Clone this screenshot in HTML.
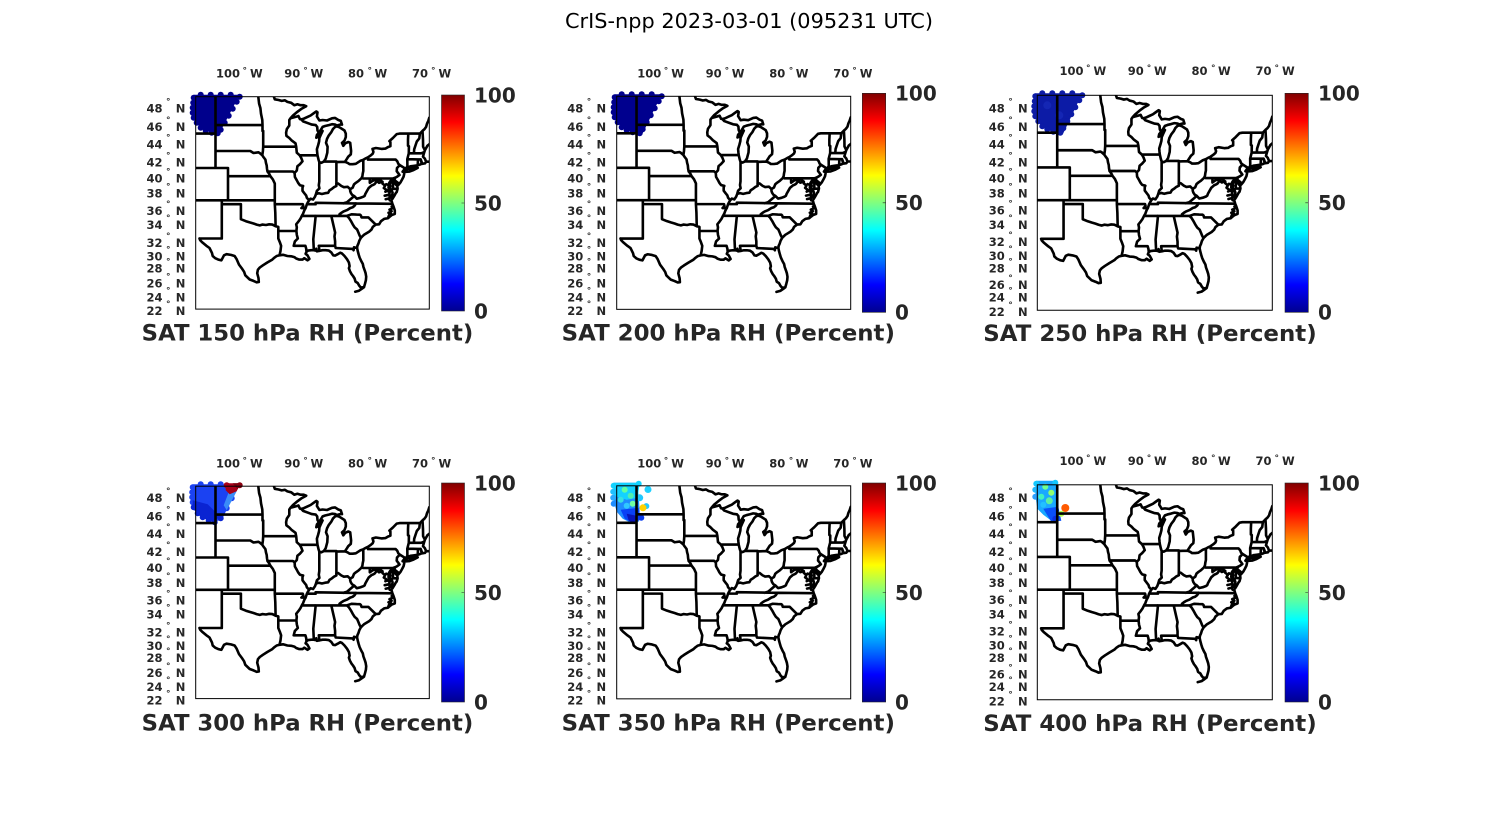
<!DOCTYPE html>
<html><head><meta charset="utf-8"><style>
html,body{margin:0;padding:0;background:#fff;}
svg{display:block;}
.l{font-family:"DejaVu Sans","Liberation Sans",sans-serif;font-weight:bold;font-size:11.5px;fill:#262626;}
.d{font-size:9px;}
.c{font-family:"DejaVu Sans","Liberation Sans",sans-serif;font-weight:bold;font-size:20px;fill:#262626;}
.h{font-family:"DejaVu Sans","Liberation Sans",sans-serif;font-weight:bold;font-size:22px;fill:#262626;}
.mt{font-family:"DejaVu Sans","Liberation Sans",sans-serif;font-size:20.5px;fill:#000;}
</style></head><body>
<svg width="1500" height="825" viewBox="0 0 1500 825" xmlns="http://www.w3.org/2000/svg">
<defs>
<linearGradient id="jet" x1="0" y1="0" x2="0" y2="1">
<stop offset="0" stop-color="#800000"/>
<stop offset="0.125" stop-color="#ff0000"/>
<stop offset="0.375" stop-color="#ffff00"/>
<stop offset="0.625" stop-color="#00ffff"/>
<stop offset="0.875" stop-color="#0000ff"/>
<stop offset="1" stop-color="#00008f"/>
</linearGradient>
<clipPath id="cp"><rect x="0" y="0" width="233.6" height="212.4"/></clipPath>
<g id="m">
<g clip-path="url(#cp)" fill="none" stroke="#000" stroke-width="2.6" stroke-linejoin="round" stroke-linecap="round">
<path d="M19.8,0L19.8,71.3M0,36.9L19.8,36.9M19.8,28.4L66.8,28.4M19.8,54.3L54.6,54.3L57.8,56.3L62.8,55.6L64.1,56.4L66.6,58.6M0,71.3L32.3,71.3L32.3,103.6M32.3,79.5L74.7,79.5M0,103.6L79.1,103.6M26.1,103.6L26.1,141.8L3.8,141.8M26.1,107.5L45.2,107.5L45.2,122.5L50.2,124.5L54,125.7L57.8,126.8L60.9,127.9L64.1,128.7L66.6,127.9L70.3,128.3L73.5,127.6L76.6,127.9L79.9,129.5L82.6,130.2L82.6,141.8L84.1,145.4L85.4,149.1L84.8,154.2L83.8,158.6M79.1,103.6L79.1,107.5L79.6,116.1L79.9,129.5M79.1,107.5L107.1,107.5L107.6,109.4L105.7,111.4L109.9,111.4M3.8,141.8L4.4,143.4L6.3,145.4L10.7,149.1L13.8,151.3L16.3,156.4L17,159.3L19.5,161.5L22.6,162.9L25.7,163.6L28.3,158.6L30.8,157.5L35.2,158.2L38.9,159.3L40.8,162.2L43.3,167.9L46.5,172.2L48.4,175.1L49.6,178.6L54,182.8L57.8,184.2L60.9,185.6L63.1,185.3L62.8,181.4L61.5,176.5L62.2,173L64.1,170.8L67.2,168.6L71.6,165.8L76.6,162.9L78.5,161.1L81,159.3L83.8,158.6L87.3,158.1L91.7,159.3L95.5,159.6L98.6,160.4L100.5,161.8L103.6,162.9L106.8,162.9L108.6,161.5L111.8,163.6L113.7,162.2L111.8,158.6L109.9,157.1L110.8,155L112.4,153.9L115.6,153.5L118.1,153.5L119.9,153.9L120.6,152L121.2,154.6L123.7,154.2L126.9,153.5L130,153.5L133.1,153.9L135.6,155.7L137.5,158.6L139.4,158.9L142,157.5L144.5,156L146.3,156.8L148.8,159.3L151.3,162.5L153.2,165.8L153.9,169.4L153.2,171.5L154.2,174.4L155.7,177.2L157.3,179.3L158.9,181.8L159.8,184.9L162,186.3L163.6,189.1L165.2,190.9L168.3,190.5L169.3,187L170.2,183.5L170.5,180L169.9,176.5L169,173.7L167.7,170.1L167.1,167.2L165.5,164.3L163.9,160.8L163,157.9L162,154.2L161.4,151.3L161.7,149.1L162.7,146.9L163.6,144L165.2,141.1L166.4,139.9L168.3,138.1L170.8,136.6L173.3,135.1L175.8,132.8L177.1,130.2L180,127.9L183.4,127.6L185.3,124.5L188.4,122.2L192.2,121.5L194.1,119.9L196,118.4L199.1,117.2L199.1,113.7L197.8,109.8L196.7,107.1M168.3,190.5L166.4,191.9L163.3,194L159.5,195M82.6,134.3L100.7,134.3M100.7,134.3L101.1,138.1L102.1,141.8L99.2,144.7L98,149.1L109.7,149.1L110.5,152L110.8,155M100.7,134.3L101.1,130.6L100.5,127.6L103,124.5L104.6,122.2L106.1,119.2L107.4,116.9L108.6,113.7L109.9,111.4L111.2,107.5L112.4,105.2L113.4,103.6L111.2,101.2L110.5,98.9L108.6,96.5L106.8,94.1L106.8,90.9L107.4,89.3L104.2,88.5L102.4,86.1L101.1,83.6L99.2,80.3L98.9,76.2L101.1,73.8L101.7,69.6L104.2,67.5L106.8,64.6L105.5,61.2L104,58.6L101.1,56L100.5,50L99.8,46.6L96.1,43.9L93.6,41.3L90.7,39.1L90.4,36L91.1,32.4L93.6,28.8L93.6,23.3L94.8,21.6M67.5,50L100.5,50M66.8,28.4L66.8,34.2L67.5,34.2L67.5,50L67.2,54.3L66.6,58.6L67.8,60.4L69.7,62.9L70.3,66.3L71,68.8L71.3,72.1L71.8,74.8L73.5,77.1L74.7,79.5L77.2,82.8L79.1,86.9L79.1,103.6M66.8,28.4L66.6,23.3L65.3,17L64.7,11.4L63.4,6.9L62.6,0M71.8,74.8L97.2,74.8L98.9,76.2M78.2,0L79.1,2.6L82.9,3.3L86,4.2L89.2,3.6L91.7,5.2L95.5,6.1L98.6,8.5L101.7,7.6L104.9,8.5L108,8.5L110.5,9.5L106.1,11.9L101.7,15.1L97.3,18.8L94.8,21.6L101.7,19.7L102.7,19.3L104.2,22.4L105.5,22.7L107.4,24.7L113.7,27L116.2,27.9L120,28.4L121.5,30.2L121.8,33.8L123.1,36M123.1,36L121.2,38.3L120.6,41L122.5,40.1L124.3,37.8L126.9,34.2L125,38.3L123.7,41.3L123.4,44.8L122.5,48.3L121.2,52.6L121.5,56L121.8,58.6L122.8,62.9L123.6,65.4L125.6,66.1L128.1,64.9M104,58.6L121.8,58.6M123.6,65.4L123.6,84.8L123.1,88.5L123.7,91.7L121.2,94.1L120.3,97.3L119.3,100L117.4,102.8L114.9,102L113.4,103.6M120.3,97.3L123.1,96.5L126.2,97.3L129.4,96.5L132.5,96.1L133.8,93.7L136.3,92.1L138.2,90.5L140.7,89.3L140.6,86.9L142.6,86.9L145.7,89.3L148.2,90.5L152,90.1L154.5,92.5L157,90.9L158.3,87.7L160.2,86.1L162.7,84.4L165.8,81.5L166.7,79.5L167,77.1L167.6,74.3L167.6,63.1L164.5,64.2L160.1,67.1L157,67.5L153.9,67.5L152,66.2L149.2,65.1L140.7,65.4M128.1,64.9L140.7,64.9L140.7,86.9M128.1,64.9L130,62L131.6,56L131.9,50L130.3,46.1L131.3,42.2L133.1,38.7L135.6,35.5L137.2,32.4L139.4,30.2L141.3,29.7L143.8,30.6L148.8,33.8L150.1,36.9L150.1,40.4L148.8,43.9L146.3,46.1L147.6,49.1L149.5,46.6L152.6,45.3L154.5,46.1L155.4,54.3L155.1,57.7L152.6,59.9L151.3,62L149.2,65.1M123.1,36L125,33.3L126.9,30.2L129.4,29.3L133.1,28.4L136.3,27.5L139.4,27.9L141.3,28.8L144.4,27.9L146.3,27.9L145.1,24.2L142.6,23.3L139.4,21.2L136.3,21.6L131.3,23.8L126.9,23.3L123.7,23.8L121.2,19.7L121.8,15.6L120.6,14.7L117.4,17L114.9,18.8L111.8,20.2L108,22L105.5,22.7M111.2,107.5L119.9,107.5L119.9,106.1L160.4,106.7L196.7,107.1M147.7,106.7L151.3,105.5L152.6,104.4L154.5,102.8L156.4,101.2L158.5,99.4L156.4,98.1L155.1,96.1L154.5,94.3L154.5,92.5M160.4,106.7L158.8,109.1L156.9,110.6L154.5,111.4L151.3,113.4L147.6,114.9L145.7,116.1L143.8,117.6L143.7,119.2M106.1,119.2L151.3,119.2M119.3,119.2L119.9,119.9L117.6,142.5L118.1,153.5M135.6,119.2L139.4,135.8L138.8,139.6L139.4,144.7L139.4,149.1L123.1,149.1L123.4,151.3L123.7,154.2M139.4,149.1L140,151.3L157,152.2L157.9,153.5L158.3,150.6L161.4,151.3M151.3,119.2L153.2,121.1L155.1,124.1L157,127.6L158.9,130.6L161.4,132.8L162.7,135.8L163.9,138.8L165.2,141.1M151.3,119.2L155.8,117.6L160.8,117.9L164.3,118L165.2,118.8L165.8,120.7L172.7,120.7L180,127.9M192.2,121.5L193.4,118.4L195.3,117L192.8,116.1L195.9,114.5L193.8,113L197.2,111.4L196,109.8M158.5,99.4L161.1,102L164.5,101.2L167.7,100L168.9,99.2L169.6,97.3L171.4,94.1L173,91.3L175.8,88.9L177.7,88.1L179,87.3L181.2,84.4L183.4,86.1L186.8,85.1L183.4,82.8L181.5,82.6L177.1,84L174.1,86.1L174.1,81.8L167.6,81.8M174.1,81.8L197.3,81.8L197.3,92.1L201.9,92.1M197.3,81.8L199.7,80.9L201.6,79.9L203.8,78.3L202.6,76.6L201,74.5L201.3,71.3L204.1,68.4M199.7,80.9L198.5,82.8L198.8,85.2L200,87.7L201.6,89.3L201.9,92.1M198.5,82.8L200,84.4L202.2,86.1L202.6,88.3L204.8,85.7L206.4,82.8L207.9,79.9L208.5,77.1L208.5,75.8L206.9,75L208.2,73.3L209,71.5L204.1,68.4M201.9,92.1L201,95.3L200,96.5L198.5,99.3L196.6,102.4L196.3,99.3L196.9,96.1L195.9,93.3L194.1,91.7L194.7,89.3L194.1,87.7L195.3,85.2L195.9,83.2L194.4,84.8L193.4,86.5L193.1,88.5L192.8,90.9L193.4,93.3L194.1,95.3L192.2,94.5L189.7,92.5L188.1,91.3L189.3,89.3L188.4,88.1L186.8,86.9L186.8,85.1M194.1,95.3L193.7,96.5L194.1,99.7L193.4,102L194.1,103.6L195.9,104.2L196.7,107.1M193.4,93.3L189.7,95M193.7,98L189,99M194,101.5L190,102.5M193.1,88.5L190.5,87.5M204.1,68.4L202.6,67.1L201.6,64.6L200,62.9L172.3,62.9L172.3,60.6L170.2,61.6L167.6,63.1M172.3,60.6L175.2,58.6L177.1,56.9L177.7,55.2L176.8,52.2L180.2,51.3L185.8,52.2L189.7,51.9L192.2,50.4L194.7,49.5L194.7,45.3L193.7,44.4L197.2,41.3L201,37.4L203.8,36.9L224.2,36.9M212.6,36.9L212.3,43L212.3,49.1L213.2,49.5L213.1,56.6L211.6,62.5L211.7,69.6L210.6,71.3L214.8,69.6L217.9,69.2L222,68.6L222.3,62.7L211.6,62.5M222,68.6L224.2,67.9L226.1,67.1L225,62.7L222.3,62.7M225,62.7L226.6,67.1L229.2,66.7L230.5,65L233.6,65M213.1,56.6L225.5,56.6L228.6,55.4L227.9,57.7L227.3,59.9L229.2,62L229.9,63.8L230.5,65M218.2,56.6L218.5,52.6L219.8,48.7L221.1,44.8L223.6,41.7L224.2,36.9L226.8,34.2L227.3,43L227.4,50L229.2,53.6L228.6,55.4M226.8,34.2L228.8,32.4L230.4,30.2L231.3,27L232.6,24.2L233.6,21M229.2,53.6L231.7,49.1L233.6,47.5M208.8,75.2L213.5,74.9L217.9,73.3L222,71.1L218.6,71.3L214.8,71.9L210,72.7Z"/>
</g>
<rect x="0" y="0" width="233.6" height="212.4" fill="none" stroke="#000" stroke-width="1"/>
</g>
</defs>

<!-- Main title -->
<text class="mt" x="749" y="28" text-anchor="middle" textLength="368" lengthAdjust="spacingAndGlyphs">CrIS-npp 2023-03-01 (095231 UTC)</text>

<!-- ===== Scatter data ===== -->
<g transform="translate(195.7,96.7)" fill="#00008c">
<polygon points="-2,-2 44,-2 24,36 16,35.5 8,33.5 2,28 -3,21"/>
<circle cx="-2" cy="1" r="3"/><circle cx="-2.5" cy="6" r="3"/><circle cx="-3" cy="11" r="3"/><circle cx="-3" cy="16" r="3"/><circle cx="-2" cy="21" r="3"/><circle cx="1" cy="26" r="3"/><circle cx="5" cy="31" r="3"/><circle cx="10" cy="34" r="3"/><circle cx="16" cy="36" r="3"/><circle cx="22" cy="36.5" r="3"/><circle cx="25" cy="33" r="3"/><circle cx="29" cy="26" r="3"/><circle cx="33" cy="19" r="3"/><circle cx="37" cy="12" r="3"/><circle cx="41" cy="5" r="3"/><circle cx="44" cy="0" r="3"/><circle cx="5" cy="-2" r="3"/><circle cx="15" cy="-2" r="3"/><circle cx="25" cy="-2" r="3"/><circle cx="35" cy="-2" r="3"/>
</g>
<g transform="translate(616.7,96.3)" fill="#00008e">
<polygon points="-2,-2 45,-2 26,37 17,36 8,34 2,28 -3,21"/>
<circle cx="-2" cy="1" r="3"/><circle cx="-2.5" cy="6" r="3"/><circle cx="-3" cy="11" r="3"/><circle cx="-3" cy="16" r="3"/><circle cx="-2" cy="21" r="3"/><circle cx="1" cy="26" r="3"/><circle cx="5" cy="31" r="3"/><circle cx="10" cy="34" r="3"/><circle cx="16" cy="36" r="3"/><circle cx="23" cy="37" r="3"/><circle cx="26" cy="33" r="3"/><circle cx="30" cy="26" r="3"/><circle cx="34" cy="19" r="3"/><circle cx="38" cy="12" r="3"/><circle cx="42" cy="5" r="3"/><circle cx="45" cy="0" r="3"/><circle cx="5" cy="-2" r="3"/><circle cx="15" cy="-2" r="3"/><circle cx="25" cy="-2" r="3"/><circle cx="35" cy="-2" r="3"/>
</g>
<g transform="translate(1037.3,95.3)" fill="#0c1ba6">
<polygon points="-2,-2 45,-2 26,38 17,37 8,34 2,28 -3,21"/>
<circle cx="-2" cy="1" r="3"/><circle cx="-2.5" cy="6" r="3"/><circle cx="-3" cy="11" r="3"/><circle cx="-3" cy="16" r="3"/><circle cx="-2" cy="21" r="3"/><circle cx="1" cy="26" r="3"/><circle cx="5" cy="31" r="3"/><circle cx="10" cy="34" r="3"/><circle cx="16" cy="36.5" r="3"/><circle cx="23" cy="37.5" r="3"/><circle cx="26" cy="33" r="3"/><circle cx="30" cy="26" r="3"/><circle cx="34" cy="19" r="3"/><circle cx="38" cy="12" r="3"/><circle cx="42" cy="5" r="3"/><circle cx="45" cy="0" r="3"/><circle cx="5" cy="-2" r="3"/><circle cx="15" cy="-2" r="3"/><circle cx="25" cy="-2" r="3"/><circle cx="35" cy="-2" r="3"/>
<circle cx="10" cy="10" r="4" fill="#1426b4"/><circle cx="22" cy="20" r="4" fill="#1426b4"/>
</g>
<g transform="translate(195.7,486.2)">
<g fill="#1b42f2">
<polygon points="-3,-2 43,-2 26,34 18,35 10,33 3,29 -3,22"/>
<circle cx="-3" cy="1" r="3"/><circle cx="-3.5" cy="6" r="3"/><circle cx="-3.5" cy="11" r="3"/><circle cx="-3" cy="16" r="3"/><circle cx="5" cy="-2" r="3"/><circle cx="15" cy="-2" r="3"/><circle cx="25" cy="-2" r="3"/><circle cx="36" cy="12" r="3"/><circle cx="31" cy="22" r="3"/>
</g>
<g fill="#0a24d2">
<polygon points="-3,14 12,18 24,30 18,36 10,33 3,29 -3,22"/>
<circle cx="-2" cy="21" r="3"/><circle cx="2" cy="27" r="3"/><circle cx="7" cy="31" r="3"/><circle cx="13" cy="34" r="3"/><circle cx="19" cy="36" r="3"/><circle cx="25" cy="32" r="3"/>
</g>
<polygon points="33,6 41,5 31,24 28,19" fill="#3a8cf8"/>
<polygon points="30,-3 45,-3 41,5 34,8 30,4" fill="#a8001a"/>
<polygon points="37,-3 45,-3 42,3" fill="#7a000c"/>
<circle cx="31" cy="-1" r="3" fill="#a8001a"/><circle cx="44" cy="-1" r="3" fill="#8a0010"/>
</g>
<g transform="translate(616.7,485.8)">
<polygon points="-3,-3 20,-3 22,10 23,25 22,36 14,37 6,33 0,26 -3,15" fill="#1e8cff"/>
<polygon points="-3,-3 23,-3 21,12 10,14 -3,10" fill="#14d2ff"/>
<circle cx="-3" cy="0" r="3" fill="#14d2ff"/><circle cx="-3.5" cy="6" r="3" fill="#20c0ff"/><circle cx="-3.5" cy="12" r="3" fill="#2aa8ff"/><circle cx="-3" cy="18" r="3" fill="#1e8cff"/><circle cx="22" cy="-2" r="3" fill="#14d2ff"/>
<circle cx="8" cy="4" r="3" fill="#60ffa0"/><circle cx="14" cy="10" r="3" fill="#50f0b0"/><circle cx="4" cy="14" r="3" fill="#38e0e0"/><circle cx="16" cy="18" r="3" fill="#70ffa0"/><circle cx="10" cy="20" r="3" fill="#30c8ff"/>
<polygon points="4,24 22,22 24,34 16,37 8,33" fill="#0a40f5"/>
<polygon points="10,28 20,30 18,37 12,35" fill="#0814b8"/>
<circle cx="31.3" cy="3.7" r="3.5" fill="#1ed0ff"/><circle cx="23" cy="12" r="3.5" fill="#20c8ff"/><circle cx="29.6" cy="20.3" r="3" fill="#22c8ff"/><circle cx="26.3" cy="22" r="3.5" fill="#ffd200"/><circle cx="24.6" cy="32" r="3" fill="#0a3cf0"/>
</g>
<g transform="translate(1037.3,484.8)">
<polygon points="-1,-4 19,-4 20,10 21,25 23,36 14,36 6,30 0,24 -2,10" fill="#1aa8ff"/>
<circle cx="-1" cy="-1" r="3" fill="#14c8ff"/><circle cx="-2" cy="5" r="3" fill="#20b8ff"/><circle cx="-2" cy="12" r="3" fill="#2aa0ff"/><circle cx="18" cy="-2" r="3" fill="#14c8ff"/>
<circle cx="8" cy="2" r="3" fill="#70ff90"/><circle cx="14" cy="8" r="3" fill="#90ff70"/><circle cx="4" cy="12" r="3" fill="#40f0c0"/><circle cx="12" cy="16" r="3.5" fill="#5cf0a0"/><circle cx="6" cy="20" r="3" fill="#22c0ff"/>
<polygon points="6,24 21,22 24,36 14,37" fill="#0a50f8"/>
<circle cx="18" cy="34" r="3" fill="#0a30e0"/>
<circle cx="28" cy="23.2" r="4" fill="#ff5a00"/>
<circle cx="24" cy="29" r="3" fill="#b0ff50"/>
</g>

<!-- ===== Maps ===== -->
<use href="#m" transform="translate(195.7,96.7)"/>
<use href="#m" transform="translate(616.7,96.3) scale(1.0017,1.003)"/>
<use href="#m" transform="translate(1037.3,95.3) scale(1.006,1.012)"/>
<use href="#m" transform="translate(195.7,486.2)"/>
<use href="#m" transform="translate(616.7,485.8) scale(1.0017,1.003)"/>
<use href="#m" transform="translate(1037.3,484.8) scale(1.006,1.012)"/>

<!-- ===== Colorbars ===== -->
<g stroke="#262626" stroke-width="0.6">
<rect x="441.5" y="95" width="23" height="216" fill="url(#jet)"/>
<rect x="862.3" y="93.3" width="23.4" height="219" fill="url(#jet)"/>
<rect x="1285" y="93.3" width="23.3" height="219" fill="url(#jet)"/>
<rect x="441.5" y="483" width="23" height="219" fill="url(#jet)"/>
<rect x="862.3" y="483" width="23.4" height="219" fill="url(#jet)"/>
<rect x="1285" y="483" width="23.3" height="219" fill="url(#jet)"/>
<path d="M461.5,203H464.5M882.7,202.8H885.7M1305.3,202.8H1308.3M461.5,592.5H464.5M882.7,592.5H885.7M1305.3,592.5H1308.3" fill="none"/>
</g>
<g class="c">
<text x="474" y="102.3">100</text><text x="474" y="210.3">50</text><text x="474" y="318.3">0</text>
<text x="895" y="100.6">100</text><text x="895" y="210">50</text><text x="895" y="319.5">0</text>
<text x="1318" y="100.6">100</text><text x="1318" y="210">50</text><text x="1318" y="319.5">0</text>
<text x="474" y="490.3">100</text><text x="474" y="599.8">50</text><text x="474" y="709.3">0</text>
<text x="895" y="490.3">100</text><text x="895" y="599.8">50</text><text x="895" y="709.3">0</text>
<text x="1318" y="490.3">100</text><text x="1318" y="599.8">50</text><text x="1318" y="709.3">0</text>
</g>

<!-- ===== Titles ===== -->
<g class="h" text-anchor="middle">
<text x="307.5" y="340.5" textLength="331.6" lengthAdjust="spacingAndGlyphs">SAT 150 hPa RH (Percent)</text>
<text x="728.3" y="340.5" textLength="333.3" lengthAdjust="spacingAndGlyphs">SAT 200 hPa RH (Percent)</text>
<text x="1150" y="341" textLength="333.4" lengthAdjust="spacingAndGlyphs">SAT 250 hPa RH (Percent)</text>
<text x="307.5" y="730.5" textLength="331.6" lengthAdjust="spacingAndGlyphs">SAT 300 hPa RH (Percent)</text>
<text x="728.3" y="730.5" textLength="333.3" lengthAdjust="spacingAndGlyphs">SAT 350 hPa RH (Percent)</text>
<text x="1150" y="731" textLength="333.4" lengthAdjust="spacingAndGlyphs">SAT 400 hPa RH (Percent)</text>
</g>

<!-- ===== Longitude labels ===== -->
<g class="l">
<g>
<text y="77.5"><tspan x="216">100</tspan><tspan class="d" x="242.5" dy="-4">°</tspan><tspan x="250" dy="4">W</tspan></text>
<text y="77.5"><tspan x="284.3">90</tspan><tspan class="d" x="303.3" dy="-4">°</tspan><tspan x="310.5" dy="4">W</tspan></text>
<text y="77.5"><tspan x="348">80</tspan><tspan class="d" x="367.5" dy="-4">°</tspan><tspan x="374.5" dy="4">W</tspan></text>
<text y="77.5"><tspan x="412">70</tspan><tspan class="d" x="431" dy="-4">°</tspan><tspan x="438.5" dy="4">W</tspan></text>
</g>
<g transform="translate(421.3,0)">
<text y="77.5"><tspan x="216">100</tspan><tspan class="d" x="242.5" dy="-4">°</tspan><tspan x="250" dy="4">W</tspan></text>
<text y="77.5"><tspan x="284.3">90</tspan><tspan class="d" x="303.3" dy="-4">°</tspan><tspan x="310.5" dy="4">W</tspan></text>
<text y="77.5"><tspan x="348">80</tspan><tspan class="d" x="367.5" dy="-4">°</tspan><tspan x="374.5" dy="4">W</tspan></text>
<text y="77.5"><tspan x="412">70</tspan><tspan class="d" x="431" dy="-4">°</tspan><tspan x="438.5" dy="4">W</tspan></text>
</g>
<g transform="translate(843.5,-2.3)">
<text y="77.5"><tspan x="216">100</tspan><tspan class="d" x="242.5" dy="-4">°</tspan><tspan x="250" dy="4">W</tspan></text>
<text y="77.5"><tspan x="284.3">90</tspan><tspan class="d" x="303.3" dy="-4">°</tspan><tspan x="310.5" dy="4">W</tspan></text>
<text y="77.5"><tspan x="348">80</tspan><tspan class="d" x="367.5" dy="-4">°</tspan><tspan x="374.5" dy="4">W</tspan></text>
<text y="77.5"><tspan x="412">70</tspan><tspan class="d" x="431" dy="-4">°</tspan><tspan x="438.5" dy="4">W</tspan></text>
</g>
<g transform="translate(0,390)">
<text y="77.5"><tspan x="216">100</tspan><tspan class="d" x="242.5" dy="-4">°</tspan><tspan x="250" dy="4">W</tspan></text>
<text y="77.5"><tspan x="284.3">90</tspan><tspan class="d" x="303.3" dy="-4">°</tspan><tspan x="310.5" dy="4">W</tspan></text>
<text y="77.5"><tspan x="348">80</tspan><tspan class="d" x="367.5" dy="-4">°</tspan><tspan x="374.5" dy="4">W</tspan></text>
<text y="77.5"><tspan x="412">70</tspan><tspan class="d" x="431" dy="-4">°</tspan><tspan x="438.5" dy="4">W</tspan></text>
</g>
<g transform="translate(421.3,390)">
<text y="77.5"><tspan x="216">100</tspan><tspan class="d" x="242.5" dy="-4">°</tspan><tspan x="250" dy="4">W</tspan></text>
<text y="77.5"><tspan x="284.3">90</tspan><tspan class="d" x="303.3" dy="-4">°</tspan><tspan x="310.5" dy="4">W</tspan></text>
<text y="77.5"><tspan x="348">80</tspan><tspan class="d" x="367.5" dy="-4">°</tspan><tspan x="374.5" dy="4">W</tspan></text>
<text y="77.5"><tspan x="412">70</tspan><tspan class="d" x="431" dy="-4">°</tspan><tspan x="438.5" dy="4">W</tspan></text>
</g>
<g transform="translate(843.5,387.7)">
<text y="77.5"><tspan x="216">100</tspan><tspan class="d" x="242.5" dy="-4">°</tspan><tspan x="250" dy="4">W</tspan></text>
<text y="77.5"><tspan x="284.3">90</tspan><tspan class="d" x="303.3" dy="-4">°</tspan><tspan x="310.5" dy="4">W</tspan></text>
<text y="77.5"><tspan x="348">80</tspan><tspan class="d" x="367.5" dy="-4">°</tspan><tspan x="374.5" dy="4">W</tspan></text>
<text y="77.5"><tspan x="412">70</tspan><tspan class="d" x="431" dy="-4">°</tspan><tspan x="438.5" dy="4">W</tspan></text>
</g>
</g>

<!-- ===== Latitude labels ===== -->
<g class="l">
<g>
<text y="112.5"><tspan x="146.5">48</tspan><tspan class="d" x="166" dy="-8">°</tspan><tspan x="175.7" dy="8">N</tspan></text>
<text y="130.9"><tspan x="146.5">46</tspan><tspan class="d" x="166" dy="-8">°</tspan><tspan x="175.7" dy="8">N</tspan></text>
<text y="148.5"><tspan x="146.5">44</tspan><tspan class="d" x="166" dy="-8">°</tspan><tspan x="175.7" dy="8">N</tspan></text>
<text y="166.5"><tspan x="146.5">42</tspan><tspan class="d" x="166" dy="-8">°</tspan><tspan x="175.7" dy="8">N</tspan></text>
<text y="182.5"><tspan x="146.5">40</tspan><tspan class="d" x="166" dy="-8">°</tspan><tspan x="175.7" dy="8">N</tspan></text>
<text y="197.5"><tspan x="146.5">38</tspan><tspan class="d" x="166" dy="-8">°</tspan><tspan x="175.7" dy="8">N</tspan></text>
<text y="214.9"><tspan x="146.5">36</tspan><tspan class="d" x="166" dy="-8">°</tspan><tspan x="175.7" dy="8">N</tspan></text>
<text y="229.2"><tspan x="146.5">34</tspan><tspan class="d" x="166" dy="-8">°</tspan><tspan x="175.7" dy="8">N</tspan></text>
<text y="246.9"><tspan x="146.5">32</tspan><tspan class="d" x="166" dy="-8">°</tspan><tspan x="175.7" dy="8">N</tspan></text>
<text y="260.5"><tspan x="146.5">30</tspan><tspan class="d" x="166" dy="-8">°</tspan><tspan x="175.7" dy="8">N</tspan></text>
<text y="272.5"><tspan x="146.5">28</tspan><tspan class="d" x="166" dy="-8">°</tspan><tspan x="175.7" dy="8">N</tspan></text>
<text y="287.5"><tspan x="146.5">26</tspan><tspan class="d" x="166" dy="-8">°</tspan><tspan x="175.7" dy="8">N</tspan></text>
<text y="301.5"><tspan x="146.5">24</tspan><tspan class="d" x="166" dy="-8">°</tspan><tspan x="175.7" dy="8">N</tspan></text>
<text y="314.9"><tspan x="146.5">22</tspan><tspan class="d" x="166" dy="-8">°</tspan><tspan x="175.7" dy="8">N</tspan></text>
</g>
<g transform="translate(420.8,0)">
<text y="112.5"><tspan x="146.5">48</tspan><tspan class="d" x="166" dy="-8">°</tspan><tspan x="175.7" dy="8">N</tspan></text>
<text y="130.9"><tspan x="146.5">46</tspan><tspan class="d" x="166" dy="-8">°</tspan><tspan x="175.7" dy="8">N</tspan></text>
<text y="148.5"><tspan x="146.5">44</tspan><tspan class="d" x="166" dy="-8">°</tspan><tspan x="175.7" dy="8">N</tspan></text>
<text y="166.5"><tspan x="146.5">42</tspan><tspan class="d" x="166" dy="-8">°</tspan><tspan x="175.7" dy="8">N</tspan></text>
<text y="182.5"><tspan x="146.5">40</tspan><tspan class="d" x="166" dy="-8">°</tspan><tspan x="175.7" dy="8">N</tspan></text>
<text y="197.5"><tspan x="146.5">38</tspan><tspan class="d" x="166" dy="-8">°</tspan><tspan x="175.7" dy="8">N</tspan></text>
<text y="214.9"><tspan x="146.5">36</tspan><tspan class="d" x="166" dy="-8">°</tspan><tspan x="175.7" dy="8">N</tspan></text>
<text y="229.2"><tspan x="146.5">34</tspan><tspan class="d" x="166" dy="-8">°</tspan><tspan x="175.7" dy="8">N</tspan></text>
<text y="246.9"><tspan x="146.5">32</tspan><tspan class="d" x="166" dy="-8">°</tspan><tspan x="175.7" dy="8">N</tspan></text>
<text y="260.5"><tspan x="146.5">30</tspan><tspan class="d" x="166" dy="-8">°</tspan><tspan x="175.7" dy="8">N</tspan></text>
<text y="272.5"><tspan x="146.5">28</tspan><tspan class="d" x="166" dy="-8">°</tspan><tspan x="175.7" dy="8">N</tspan></text>
<text y="287.5"><tspan x="146.5">26</tspan><tspan class="d" x="166" dy="-8">°</tspan><tspan x="175.7" dy="8">N</tspan></text>
<text y="301.5"><tspan x="146.5">24</tspan><tspan class="d" x="166" dy="-8">°</tspan><tspan x="175.7" dy="8">N</tspan></text>
<text y="314.9"><tspan x="146.5">22</tspan><tspan class="d" x="166" dy="-8">°</tspan><tspan x="175.7" dy="8">N</tspan></text>
</g>
<g transform="translate(842.3,0)">
<text y="112.5"><tspan x="146.5">48</tspan><tspan class="d" x="166" dy="-8">°</tspan><tspan x="175.7" dy="8">N</tspan></text>
<text y="130.9"><tspan x="146.5">46</tspan><tspan class="d" x="166" dy="-8">°</tspan><tspan x="175.7" dy="8">N</tspan></text>
<text y="148.5"><tspan x="146.5">44</tspan><tspan class="d" x="166" dy="-8">°</tspan><tspan x="175.7" dy="8">N</tspan></text>
<text y="166.5"><tspan x="146.5">42</tspan><tspan class="d" x="166" dy="-8">°</tspan><tspan x="175.7" dy="8">N</tspan></text>
<text y="182.5"><tspan x="146.5">40</tspan><tspan class="d" x="166" dy="-8">°</tspan><tspan x="175.7" dy="8">N</tspan></text>
<text y="197.5"><tspan x="146.5">38</tspan><tspan class="d" x="166" dy="-8">°</tspan><tspan x="175.7" dy="8">N</tspan></text>
<text y="214.5"><tspan x="146.5">36</tspan><tspan class="d" x="166" dy="-8">°</tspan><tspan x="175.7" dy="8">N</tspan></text>
<text y="229.2"><tspan x="146.5">34</tspan><tspan class="d" x="166" dy="-8">°</tspan><tspan x="175.7" dy="8">N</tspan></text>
<text y="246"><tspan x="146.5">32</tspan><tspan class="d" x="166" dy="-8">°</tspan><tspan x="175.7" dy="8">N</tspan></text>
<text y="260"><tspan x="146.5">30</tspan><tspan class="d" x="166" dy="-8">°</tspan><tspan x="175.7" dy="8">N</tspan></text>
<text y="272.5"><tspan x="146.5">28</tspan><tspan class="d" x="166" dy="-8">°</tspan><tspan x="175.7" dy="8">N</tspan></text>
<text y="289"><tspan x="146.5">26</tspan><tspan class="d" x="166" dy="-8">°</tspan><tspan x="175.7" dy="8">N</tspan></text>
<text y="301.5"><tspan x="146.5">24</tspan><tspan class="d" x="166" dy="-8">°</tspan><tspan x="175.7" dy="8">N</tspan></text>
<text y="315.9"><tspan x="146.5">22</tspan><tspan class="d" x="166" dy="-8">°</tspan><tspan x="175.7" dy="8">N</tspan></text>
</g>
<g transform="translate(0,389.5)">
<text y="112.5"><tspan x="146.5">48</tspan><tspan class="d" x="166" dy="-8">°</tspan><tspan x="175.7" dy="8">N</tspan></text>
<text y="130.9"><tspan x="146.5">46</tspan><tspan class="d" x="166" dy="-8">°</tspan><tspan x="175.7" dy="8">N</tspan></text>
<text y="148.5"><tspan x="146.5">44</tspan><tspan class="d" x="166" dy="-8">°</tspan><tspan x="175.7" dy="8">N</tspan></text>
<text y="166.5"><tspan x="146.5">42</tspan><tspan class="d" x="166" dy="-8">°</tspan><tspan x="175.7" dy="8">N</tspan></text>
<text y="182.5"><tspan x="146.5">40</tspan><tspan class="d" x="166" dy="-8">°</tspan><tspan x="175.7" dy="8">N</tspan></text>
<text y="197.5"><tspan x="146.5">38</tspan><tspan class="d" x="166" dy="-8">°</tspan><tspan x="175.7" dy="8">N</tspan></text>
<text y="214.9"><tspan x="146.5">36</tspan><tspan class="d" x="166" dy="-8">°</tspan><tspan x="175.7" dy="8">N</tspan></text>
<text y="229.2"><tspan x="146.5">34</tspan><tspan class="d" x="166" dy="-8">°</tspan><tspan x="175.7" dy="8">N</tspan></text>
<text y="246.9"><tspan x="146.5">32</tspan><tspan class="d" x="166" dy="-8">°</tspan><tspan x="175.7" dy="8">N</tspan></text>
<text y="260.5"><tspan x="146.5">30</tspan><tspan class="d" x="166" dy="-8">°</tspan><tspan x="175.7" dy="8">N</tspan></text>
<text y="272.5"><tspan x="146.5">28</tspan><tspan class="d" x="166" dy="-8">°</tspan><tspan x="175.7" dy="8">N</tspan></text>
<text y="287.5"><tspan x="146.5">26</tspan><tspan class="d" x="166" dy="-8">°</tspan><tspan x="175.7" dy="8">N</tspan></text>
<text y="301.5"><tspan x="146.5">24</tspan><tspan class="d" x="166" dy="-8">°</tspan><tspan x="175.7" dy="8">N</tspan></text>
<text y="314.9"><tspan x="146.5">22</tspan><tspan class="d" x="166" dy="-8">°</tspan><tspan x="175.7" dy="8">N</tspan></text>
</g>
<g transform="translate(420.8,389.5)">
<text y="112.5"><tspan x="146.5">48</tspan><tspan class="d" x="166" dy="-8">°</tspan><tspan x="175.7" dy="8">N</tspan></text>
<text y="130.9"><tspan x="146.5">46</tspan><tspan class="d" x="166" dy="-8">°</tspan><tspan x="175.7" dy="8">N</tspan></text>
<text y="148.5"><tspan x="146.5">44</tspan><tspan class="d" x="166" dy="-8">°</tspan><tspan x="175.7" dy="8">N</tspan></text>
<text y="166.5"><tspan x="146.5">42</tspan><tspan class="d" x="166" dy="-8">°</tspan><tspan x="175.7" dy="8">N</tspan></text>
<text y="182.5"><tspan x="146.5">40</tspan><tspan class="d" x="166" dy="-8">°</tspan><tspan x="175.7" dy="8">N</tspan></text>
<text y="197.5"><tspan x="146.5">38</tspan><tspan class="d" x="166" dy="-8">°</tspan><tspan x="175.7" dy="8">N</tspan></text>
<text y="214.9"><tspan x="146.5">36</tspan><tspan class="d" x="166" dy="-8">°</tspan><tspan x="175.7" dy="8">N</tspan></text>
<text y="229.2"><tspan x="146.5">34</tspan><tspan class="d" x="166" dy="-8">°</tspan><tspan x="175.7" dy="8">N</tspan></text>
<text y="246.9"><tspan x="146.5">32</tspan><tspan class="d" x="166" dy="-8">°</tspan><tspan x="175.7" dy="8">N</tspan></text>
<text y="260.5"><tspan x="146.5">30</tspan><tspan class="d" x="166" dy="-8">°</tspan><tspan x="175.7" dy="8">N</tspan></text>
<text y="272.5"><tspan x="146.5">28</tspan><tspan class="d" x="166" dy="-8">°</tspan><tspan x="175.7" dy="8">N</tspan></text>
<text y="287.5"><tspan x="146.5">26</tspan><tspan class="d" x="166" dy="-8">°</tspan><tspan x="175.7" dy="8">N</tspan></text>
<text y="301.5"><tspan x="146.5">24</tspan><tspan class="d" x="166" dy="-8">°</tspan><tspan x="175.7" dy="8">N</tspan></text>
<text y="314.9"><tspan x="146.5">22</tspan><tspan class="d" x="166" dy="-8">°</tspan><tspan x="175.7" dy="8">N</tspan></text>
</g>
<g transform="translate(842.3,389.5)">
<text y="112.5"><tspan x="146.5">48</tspan><tspan class="d" x="166" dy="-8">°</tspan><tspan x="175.7" dy="8">N</tspan></text>
<text y="130.9"><tspan x="146.5">46</tspan><tspan class="d" x="166" dy="-8">°</tspan><tspan x="175.7" dy="8">N</tspan></text>
<text y="148.5"><tspan x="146.5">44</tspan><tspan class="d" x="166" dy="-8">°</tspan><tspan x="175.7" dy="8">N</tspan></text>
<text y="166.5"><tspan x="146.5">42</tspan><tspan class="d" x="166" dy="-8">°</tspan><tspan x="175.7" dy="8">N</tspan></text>
<text y="182.5"><tspan x="146.5">40</tspan><tspan class="d" x="166" dy="-8">°</tspan><tspan x="175.7" dy="8">N</tspan></text>
<text y="197.5"><tspan x="146.5">38</tspan><tspan class="d" x="166" dy="-8">°</tspan><tspan x="175.7" dy="8">N</tspan></text>
<text y="214.5"><tspan x="146.5">36</tspan><tspan class="d" x="166" dy="-8">°</tspan><tspan x="175.7" dy="8">N</tspan></text>
<text y="229.2"><tspan x="146.5">34</tspan><tspan class="d" x="166" dy="-8">°</tspan><tspan x="175.7" dy="8">N</tspan></text>
<text y="246"><tspan x="146.5">32</tspan><tspan class="d" x="166" dy="-8">°</tspan><tspan x="175.7" dy="8">N</tspan></text>
<text y="260"><tspan x="146.5">30</tspan><tspan class="d" x="166" dy="-8">°</tspan><tspan x="175.7" dy="8">N</tspan></text>
<text y="272.5"><tspan x="146.5">28</tspan><tspan class="d" x="166" dy="-8">°</tspan><tspan x="175.7" dy="8">N</tspan></text>
<text y="289"><tspan x="146.5">26</tspan><tspan class="d" x="166" dy="-8">°</tspan><tspan x="175.7" dy="8">N</tspan></text>
<text y="301.5"><tspan x="146.5">24</tspan><tspan class="d" x="166" dy="-8">°</tspan><tspan x="175.7" dy="8">N</tspan></text>
<text y="315.9"><tspan x="146.5">22</tspan><tspan class="d" x="166" dy="-8">°</tspan><tspan x="175.7" dy="8">N</tspan></text>
</g>
</g>
</svg>
</body></html>
